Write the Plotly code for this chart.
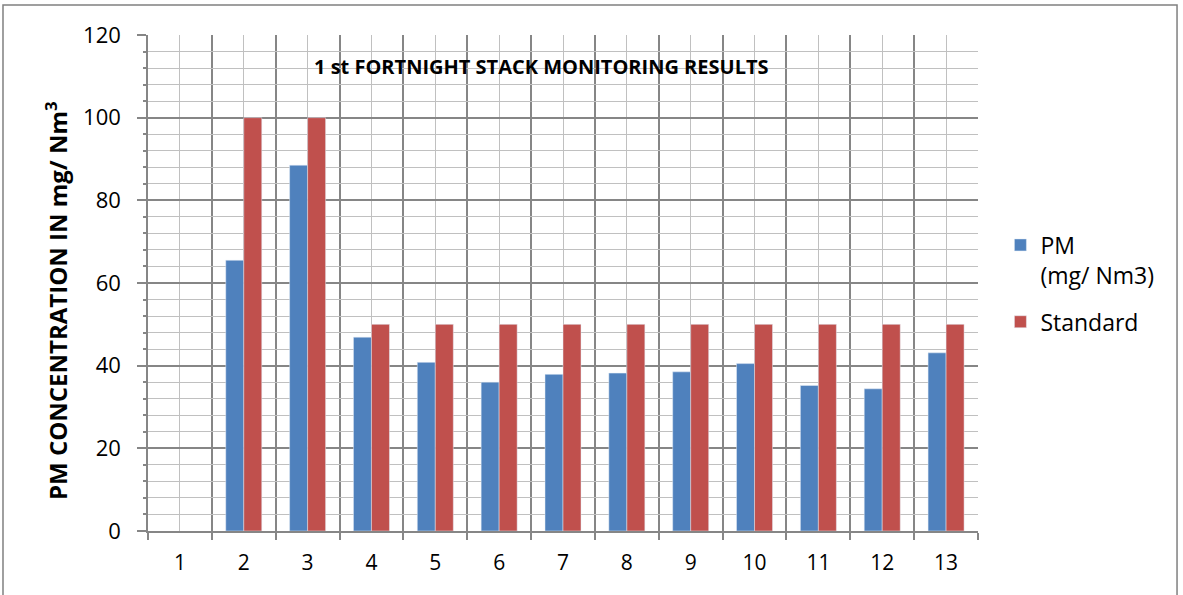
import plotly.graph_objects as go

categories = [1, 2, 3, 4, 5, 6, 7, 8, 9, 10, 11, 12, 13]
pm_values = [None, 65.5, 88.5, 46.9, 40.8, 36.0, 37.9, 38.2, 38.5, 40.5, 35.2, 34.4, 43.1]
standard_values = [None, 100, 100, 50, 50, 50, 50, 50, 50, 50, 50, 50, 50]
tick_labels = [str(c) for c in categories]
y_ticks = [0, 20, 40, 60, 80, 100, 120]

FONT = "Open Sans, Lato, sans-serif"
DARK = "#868686"
LIGHT = "#C0C0C0"

fig = go.Figure()
fig.add_trace(go.Bar(x=categories, y=pm_values, name="PM<br>(mg/ Nm3)",
                     legendgroup="pm", marker=dict(color="#4F81BD")))
fig.add_trace(go.Bar(x=categories, y=standard_values, name="Standard",
                     legendgroup="std", marker=dict(color="#C0504D")))

boundaries = [c - 0.5 for c in categories] + [categories[-1] + 0.5]

fig.update_layout(
    width=1183, height=595,
    margin=dict(l=148, r=205, t=35, b=64),
    paper_bgcolor="white", plot_bgcolor="white",
    barmode="group", bargap=0.436, bargroupgap=0,
    font=dict(family=FONT, color="black"),
    showlegend=True,
    legend=dict(x=1.027, y=0.62, xanchor="left", yanchor="top",
                font=dict(size=23, family=FONT), valign="top",
                tracegroupgap=14, itemwidth=30, bgcolor="rgba(0,0,0,0)"),
    xaxis=dict(
        range=[0.5, 13.5], tickvals=categories, ticktext=tick_labels,
        showgrid=True, gridcolor=LIGHT, gridwidth=1,
        ticks="", tickfont=dict(size=21, family=FONT), ticklabelstandoff=12,
        showline=True, linecolor=DARK, linewidth=2, zeroline=False,
        minor=dict(tickvals=boundaries, showgrid=True, gridcolor=DARK, gridwidth=1.5,
                   ticks="outside", ticklen=7, tickcolor=DARK, tickwidth=1.5),
        fixedrange=True,
    ),
    yaxis=dict(
        range=[0, 120], tickvals=y_ticks, showgrid=True, gridcolor=DARK, gridwidth=1.5,
        ticks="outside", ticklen=9, tickcolor=DARK, tickwidth=1.5,
        tickfont=dict(size=22, family=FONT), ticklabelstandoff=12,
        showline=True, linecolor=DARK, linewidth=1.5, zeroline=False,
        minor=dict(dtick=4, showgrid=True, gridcolor=LIGHT, gridwidth=1,
                   ticks="outside", ticklen=3, tickcolor=DARK),
        fixedrange=True,
    ),
    annotations=[
        dict(text="<b>1 st FORTNIGHT STACK MONITORING RESULTS</b>",
             xref="paper", yref="paper", x=0.4735, y=0.9375,
             xanchor="center", yanchor="middle", showarrow=False,
             font=dict(size=20, family=FONT, color="black")),
        dict(text="<b>PM CONCENTRATION IN mg/ Nm<sup>3</sup></b>",
             xref="paper", yref="paper", x=-0.1108, y=0.4637,
             xanchor="center", yanchor="middle", showarrow=False, textangle=-90,
             font=dict(size=24, family=FONT, color="black")),
    ],
    shapes=[dict(type="rect", xref="paper", yref="paper",
                 x0=-0.1747, x1=1.2398, y0=-0.25, y1=1.0605,
                 line=dict(color="#808080", width=1.5), layer="above")],
)

fig.write_html("out.html", config={"displayModeBar": False},
               post_script="document.body.style.margin='0';document.body.style.overflow='hidden';")
